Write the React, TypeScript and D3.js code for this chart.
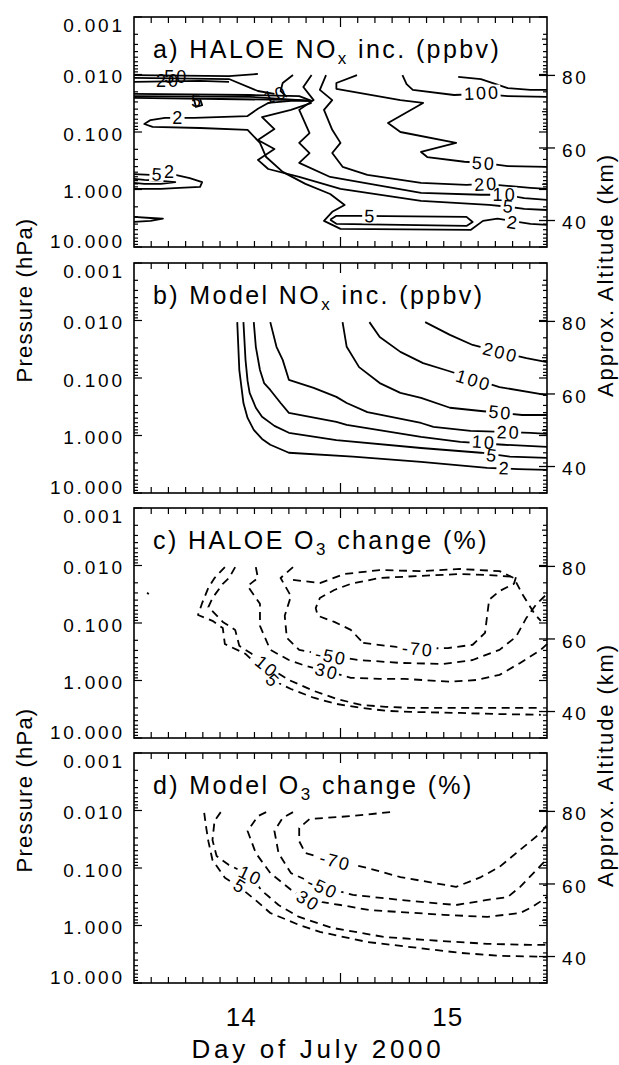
import React from 'react';
import * as d3 from 'd3';

type Pt = [number, number];
interface Contour { pts: Pt[]; label?: string; at?: Pt[]; }
interface Stray { text: string; at: Pt; rot: number; }

// axis values
const pressureTicks = [0.001, 0.01, 0.1, 1, 10];
const pressureTickLabels = ['0.001', '0.010', '0.100', '1.000', '10.000'];
const altTicks = [40, 60, 80];
const altMinorTicks = [50, 70, 90];
const dayLabels = ['14', '15'];
const dayLabelAt = [14.5, 15.5];

const titleHead = ['a) HALOE NO', 'b) Model NO', 'c) HALOE O', 'd) Model O'];
const titleSub = ['x', 'x', '3', '3'];
const titleTail = [' inc. (ppbv)', ' inc. (ppbv)', ' change (%)', ' change (%)'];

// contours: [day of July, approx. altitude km]
const haloeNox: Contour[] = [
  { label: '2', at: [[14.21, 68.5], [15.83, 39.6]], pts: [[14.86, 73.0], [14.76, 73.0], [14.65, 72.4], [14.60, 70.8], [14.55, 68.8], [14.29, 68.3], [14.15, 68.3], [14.08, 67.7], [14.05, 66.6], [14.09, 65.8], [14.32, 65.5], [14.55, 65.0], [14.61, 61.4], [14.64, 57.5], [14.72, 53.4], [14.83, 50.1], [14.95, 47.3], [15.02, 44.3], [14.96, 42.4], [14.92, 39.9], [15.00, 37.7], [15.63, 37.4], [15.69, 39.9], [15.76, 40.5], [15.92, 39.1], [16.0, 38.8]] },
  { label: '5', at: [[15.81, 44.0]], pts: [[14.86, 72.4], [14.76, 70.5], [14.62, 68.5], [14.68, 65.2], [14.60, 62.2], [14.68, 59.7], [14.60, 56.7], [14.65, 54.2], [14.80, 52.0], [15.00, 48.7], [15.39, 45.4], [15.72, 44.3], [15.81, 43.8], [15.89, 43.2], [16.0, 42.9]] },
  { label: '10', at: [[15.79, 47.1]], pts: [[14.86, 80.1], [14.82, 76.8], [14.87, 73.2], [14.80, 70.5], [14.85, 64.1], [14.80, 61.4], [14.85, 58.6], [14.80, 55.9], [14.95, 52.0], [15.39, 47.6], [15.68, 47.1], [15.79, 47.1], [15.89, 46.2], [16.0, 45.7]] },
  { label: '20', at: [[15.70, 50.1]], pts: [[14.93, 80.1], [14.90, 76.0], [14.96, 73.2], [14.92, 70.5], [14.96, 65.0], [15.00, 61.4], [14.96, 58.6], [15.01, 54.8], [15.13, 52.6], [15.39, 50.4], [15.61, 49.8], [15.70, 50.1], [15.92, 49.0], [16.0, 48.7]] },
  { label: '50', at: [[15.69, 55.9]], pts: [[15.08, 80.1], [14.98, 77.9], [14.98, 76.3], [15.29, 73.2], [15.40, 72.4], [15.23, 66.9], [15.29, 64.4], [15.56, 61.4], [15.39, 58.9], [15.42, 57.5], [15.60, 56.2], [15.69, 55.9], [15.81, 55.0], [16.0, 54.8]] },
  { label: '100', at: [[15.68, 75.2]], pts: [[15.30, 80.1], [15.32, 77.6], [15.35, 76.0], [15.55, 74.6], [15.68, 74.9], [15.81, 74.3], [16.0, 74.1]] },
  { pts: [[15.57, 79.6], [15.68, 79.0], [15.81, 76.5], [15.92, 76.0], [16.0, 76.0]] },
  { label: '5', at: [[15.14, 41.3]], pts: [[14.95, 40.2], [14.98, 41.3], [15.09, 41.3], [15.61, 41.0], [15.64, 39.6], [15.61, 38.5], [14.98, 39.1], [14.95, 40.2]] },
  { label: '2', at: [[14.17, 53.4]], pts: [[14.00, 52.8], [14.08, 52.6], [14.20, 52.6], [14.27, 51.7], [14.33, 50.6], [14.32, 49.3], [14.22, 49.0], [14.13, 48.7], [14.00, 48.7]] },
  { label: '5', at: [[14.11, 52.8]], pts: [[14.00, 51.5], [14.05, 51.2], [14.13, 50.9], [14.20, 50.6], [14.13, 50.1], [14.05, 50.1], [14.00, 50.4]] },
  { pts: [[14.00, 41.0], [14.08, 40.7], [14.14, 40.5], [14.08, 39.9], [14.00, 39.6]] },
  { pts: [[14.00, 80.1], [14.46, 79.8], [14.60, 80.4]] },
  { pts: [[14.00, 79.3], [14.46, 79.0], [14.60, 75.7], [14.68, 74.9]] },
  { pts: [[14.00, 78.2], [14.32, 78.5], [14.46, 78.2]] },
  { pts: [[14.00, 74.9], [14.56, 74.6], [14.80, 74.3], [14.86, 73.0]] },
  { pts: [[14.00, 74.3], [14.56, 74.1], [14.86, 73.0]] },
  { pts: [[14.00, 73.8], [14.42, 73.5], [14.80, 73.2], [14.86, 73.0]] },
  { pts: [[14.77, 80.1], [14.72, 77.9], [14.71, 75.7], [14.74, 74.1]] },
  { pts: [[14.29, 73.5], [14.30, 71.3], [14.33, 71.8], [14.32, 73.5]] },
];
const haloeNoxStray: Stray[] = [
  { text: '20', at: [14.16, 78.7], rot: 0 },
  { text: '50', at: [14.20, 79.8], rot: 0 },
  { text: '5', at: [14.30, 73.2], rot: 0 },
  { text: '10', at: [14.68, 74.6], rot: -20 },
];

const modelNox: Contour[] = [
  { label: '2', at: [[15.79, 39.6]], pts: [[14.50, 79.8], [14.51, 66.6], [14.53, 57.5], [14.55, 53.4], [14.58, 50.1], [14.62, 47.6], [14.66, 46.0], [14.75, 43.8], [15.06, 42.7], [15.39, 41.3], [15.71, 39.6], [15.86, 39.3], [16.0, 39.1]] },
  { label: '5', at: [[15.73, 43.2]], pts: [[14.53, 79.8], [14.54, 69.4], [14.55, 63.6], [14.56, 60.3], [14.59, 56.2], [14.62, 53.7], [14.68, 51.2], [14.75, 49.3], [14.98, 47.3], [15.39, 45.1], [15.68, 43.8], [15.82, 42.7], [16.0, 42.4]] },
  { label: '10', at: [[15.69, 46.8]], pts: [[14.58, 79.8], [14.59, 73.0], [14.61, 66.6], [14.63, 63.0], [14.66, 61.1], [14.71, 57.5], [14.75, 54.8], [14.98, 52.3], [15.03, 51.5], [15.39, 48.2], [15.58, 46.8], [15.79, 46.0], [16.0, 45.4]] },
  { label: '20', at: [[15.81, 49.5]], pts: [[14.66, 79.8], [14.69, 73.0], [14.72, 69.4], [14.75, 63.9], [14.87, 61.7], [14.98, 59.2], [15.03, 57.5], [15.13, 55.0], [15.39, 52.0], [15.45, 50.9], [15.63, 49.8], [15.92, 49.3], [16.0, 49.0]] },
  { label: '50', at: [[15.77, 55.0]], pts: [[15.01, 79.8], [15.03, 73.0], [15.09, 67.4], [15.19, 63.0], [15.29, 60.3], [15.39, 58.9], [15.53, 56.2], [15.68, 55.3], [15.88, 54.2], [16.0, 54.2]] },
  { label: '100', at: [[15.64, 63.9]], pts: [[15.14, 79.8], [15.19, 75.7], [15.29, 71.6], [15.40, 68.5], [15.52, 66.4], [15.77, 61.9], [16.0, 59.7]] },
  { label: '200', at: [[15.77, 71.6]], pts: [[15.41, 79.8], [15.53, 76.3], [15.64, 73.5], [15.77, 71.6], [15.90, 69.9], [16.0, 68.8]] },
];

const haloeO3: Contour[] = [
  { label: '5', at: [[14.67, 48.7]], pts: [[14.44, 79.8], [14.39, 76.8], [14.36, 74.1], [14.33, 69.9], [14.31, 66.6], [14.38, 65.0], [14.43, 63.0], [14.44, 58.6], [14.54, 55.9], [14.62, 51.5], [14.67, 48.7], [14.76, 46.2], [14.87, 43.8], [14.98, 42.1], [15.10, 41.0], [15.22, 40.2], [15.34, 39.9], [15.58, 39.6], [15.77, 39.3], [15.97, 39.1]] },
  { label: '10', at: [[14.64, 52.6]], pts: [[14.49, 79.8], [14.46, 76.8], [14.43, 75.2], [14.38, 71.3], [14.36, 68.8], [14.43, 64.7], [14.49, 62.5], [14.51, 58.1], [14.57, 55.9], [14.64, 52.6], [14.75, 48.7], [14.87, 45.7], [14.98, 43.5], [15.10, 41.8], [15.22, 41.3], [15.34, 41.0], [15.58, 41.0], [15.77, 41.0], [15.97, 41.0]] },
  { label: '30', at: [[14.93, 51.2]], pts: [[14.59, 79.8], [14.60, 76.8], [14.55, 74.6], [14.61, 69.7], [14.61, 63.6], [14.66, 57.0], [14.75, 54.2], [14.83, 52.6], [14.93, 51.2], [15.05, 49.3], [15.19, 49.0], [15.31, 49.0], [15.53, 48.2], [15.66, 48.7], [15.77, 50.1], [15.87, 53.4], [15.97, 57.0], [16.0, 58.6]] },
  { label: '-50', at: [[14.95, 55.3]], pts: [[14.77, 79.8], [14.71, 76.8], [14.76, 71.8], [14.73, 66.4], [14.74, 60.3], [14.80, 57.0], [14.95, 55.3], [15.09, 54.2], [15.29, 53.4], [15.50, 53.1], [15.64, 54.2], [15.77, 57.0], [15.85, 60.6], [15.90, 65.8], [15.95, 69.7], [16.0, 72.4]] },
  { label: '-70', at: [[15.37, 57.3]], pts: [[15.11, 58.9], [15.27, 57.8], [15.37, 57.3], [15.52, 57.5], [15.64, 58.4], [15.70, 61.7], [15.71, 66.4], [15.72, 70.8], [15.77, 73.2], [15.84, 75.2], [15.85, 77.1], [15.72, 77.6], [15.58, 77.9], [15.39, 77.4], [15.19, 76.8], [15.05, 75.2], [14.97, 73.5], [14.90, 71.3], [14.88, 68.5], [14.89, 66.4], [14.97, 64.7], [15.05, 62.5], [15.11, 58.9]] },
  { pts: [[14.77, 76.3], [14.90, 75.4], [15.02, 77.9], [15.19, 79.0], [15.39, 78.7], [15.58, 79.3], [15.77, 78.7], [15.84, 76.8], [15.88, 72.4], [15.94, 66.9], [15.97, 65.0]] },
  { pts: [[14.063, 72.7], [14.072, 72.4]] },
];

const modelO3: Contour[] = [
  { label: '5', at: [[14.51, 59.5]], pts: [[14.34, 79.6], [14.35, 75.4], [14.36, 71.8], [14.38, 66.6], [14.44, 61.7], [14.51, 59.2], [14.60, 55.0], [14.66, 52.0], [14.80, 48.7], [14.90, 46.8], [15.13, 44.0], [15.37, 42.4], [15.58, 41.0], [15.77, 40.2], [16.0, 39.9]] },
  { label: '10', at: [[14.56, 62.5]], pts: [[14.42, 79.8], [14.39, 77.4], [14.38, 72.1], [14.40, 67.7], [14.46, 65.2], [14.56, 62.5], [14.62, 58.1], [14.70, 54.2], [14.80, 50.9], [14.96, 47.9], [15.21, 45.4], [15.48, 44.3], [15.71, 43.5], [15.92, 43.2], [16.0, 43.2]] },
  { label: '30', at: [[14.84, 55.6]], pts: [[14.64, 79.8], [14.60, 78.7], [14.55, 74.6], [14.59, 68.5], [14.66, 63.0], [14.76, 58.4], [14.84, 55.6], [15.00, 54.2], [15.14, 52.8], [15.50, 51.5], [15.71, 50.9], [15.87, 52.0], [15.93, 53.7], [16.0, 56.4]] },
  { label: '-50', at: [[14.91, 59.2]], pts: [[14.77, 79.8], [14.72, 78.2], [14.68, 74.6], [14.70, 68.5], [14.76, 63.0], [14.91, 59.2], [15.06, 57.0], [15.29, 55.6], [15.56, 54.2], [15.71, 55.6], [15.81, 56.4], [15.87, 59.2], [15.95, 63.9], [16.0, 66.9]] },
  { label: '-70', at: [[14.97, 66.4]], pts: [[15.24, 79.8], [15.05, 78.7], [14.85, 77.9], [14.80, 75.4], [14.80, 71.8], [14.83, 68.5], [14.97, 66.4], [15.13, 64.4], [15.29, 61.9], [15.45, 60.3], [15.56, 59.2], [15.68, 61.9], [15.77, 64.7], [15.87, 69.4], [15.97, 74.1], [16.0, 76.3]] },
];

const panelContours = [haloeNox, modelNox, haloeO3, modelO3];
const panelStrays: Stray[][] = [haloeNoxStray, [], [], []];
const panelDashed = [false, false, true, true];

const W = 619;
const H = 1065;
const X0 = 134;
const X1 = 547;
const PH = 230;
const panelTops = [17, 263, 508, 753];
const kmDomain: [number, number] = [32.7, 96.1];
const FONT = '"Liberation Sans", Arial, sans-serif';

function angleAt(pts: Pt[], at: Pt, x: (v: number) => number, y: (v: number) => number) {
  const px = x(at[0]);
  const py = y(at[1]);
  let best = Infinity;
  let ang = 0;
  for (let i = 0; i < pts.length - 1; i++) {
    const ax = x(pts[i][0]), ay = y(pts[i][1]);
    const bx = x(pts[i + 1][0]), by = y(pts[i + 1][1]);
    const dx = bx - ax, dy = by - ay;
    const l2 = dx * dx + dy * dy || 1;
    const t = Math.max(0, Math.min(1, ((px - ax) * dx + (py - ay) * dy) / l2));
    const d = Math.hypot(ax + t * dx - px, ay + t * dy - py);
    if (d < best) {
      best = d;
      ang = (Math.atan2(dy, dx) * 180) / Math.PI;
    }
  }
  if (ang > 90) ang -= 180;
  if (ang < -90) ang += 180;
  return ang;
}

const Panel: React.FC<{ idx: number }> = ({ idx }) => {
  const top = panelTops[idx];
  const x = d3.scaleLinear().domain([14, 16]).range([X0, X1]);
  const y = d3.scaleLinear().domain(kmDomain).range([top + PH, top]);
  const p = d3.scaleLog().domain([0.001, 10]).range([top, top + PH]);
  const line = d3.line<Pt>().x(d => x(d[0])).y(d => y(d[1]));
  const contours = panelContours[idx];
  const dashed = panelDashed[idx];

  const labels: { text: string; cx: number; cy: number; rot: number }[] = [];
  contours.forEach(c => {
    (c.at || []).forEach(a => {
      labels.push({ text: c.label || '', cx: x(a[0]), cy: y(a[1]), rot: angleAt(c.pts, a, x, y) });
    });
  });

  const hourTicks = d3.range(1, 24).map(i => 14 + i / 12);
  const pTicks = p.ticks();

  return (
    <g>
      {contours.map((c, i) => (
        <path key={i} d={line(c.pts) || ''} fill="none" stroke="#000" strokeWidth={1.8}
          strokeLinejoin="round" strokeDasharray={dashed ? '8 5.5' : undefined} />
      ))}
      {labels.map((l, i) => (
        <rect key={'r' + i} transform={`translate(${l.cx},${l.cy}) rotate(${l.rot})`}
          x={-l.text.length * 6.2 - 1} y={-7.5} width={l.text.length * 12.4 + 2} height={15} fill="#fff" />
      ))}
      {labels.map((l, i) => (
        <text key={'t' + i} transform={`translate(${l.cx},${l.cy}) rotate(${l.rot})`}
          textAnchor="middle" dx={1} dy={6.5} fontSize={18} letterSpacing={2} fontFamily={FONT}>{l.text}</text>
      ))}
      {panelStrays[idx].map((s, i) => (
        <text key={'s' + i} transform={`translate(${x(s.at[0])},${y(s.at[1])}) rotate(${s.rot})`}
          textAnchor="middle" dx={1} dy={6.5} fontSize={18} letterSpacing={2} fontFamily={FONT}>{s.text}</text>
      ))}

      {/* frame */}
      <rect x={X0} y={top} width={X1 - X0} height={PH} fill="none" stroke="#000" strokeWidth={1.6} />

      {/* pressure ticks, left and right */}
      {pTicks.map((t, i) => {
        const major = Math.abs(Math.log10(t) - Math.round(Math.log10(t))) < 1e-6;
        const len = major ? 8 : 4;
        const yy = p(t);
        return (
          <g key={'p' + i}>
            <line x1={X0} x2={X0 + len} y1={yy} y2={yy} stroke="#000" strokeWidth={1.2} />
            <line x1={X1} x2={X1 - len} y1={yy} y2={yy} stroke="#000" strokeWidth={1.2} />
          </g>
        );
      })}
      {pressureTicks.map((t, i) => {
        let yy = p(t) + 2;
        if (i === 0) yy = top + 8;
        if (i === pressureTicks.length - 1) yy = top + PH - 6;
        return (
          <text key={'pl' + i} x={122 + 2.8} y={yy} dy="0.36em" textAnchor="end" fontSize={19}
            letterSpacing={2.8} fontFamily={FONT}>{pressureTickLabels[i]}</text>
        );
      })}

      {/* altitude axis */}
      {altTicks.map(a => (
        <g key={'a' + a}>
          <line x1={X1 - 8} x2={X1 + 8} y1={y(a)} y2={y(a)} stroke="#000" strokeWidth={1.3} />
          <text x={562} y={y(a) + 2} dy="0.36em" fontSize={19} letterSpacing={2.8} fontFamily={FONT}>{a}</text>
        </g>
      ))}
      {altMinorTicks.map(a => (
        <line key={'am' + a} x1={X1 - 5} x2={X1} y1={y(a)} y2={y(a)} stroke="#000" strokeWidth={1.2} />
      ))}

      {/* time ticks */}
      {hourTicks.map((d, i) => {
        const len = Math.abs(d - 15) < 1e-6 ? 10 : 6;
        return (
          <g key={'h' + i}>
            <line x1={x(d)} x2={x(d)} y1={top} y2={top + len} stroke="#000" strokeWidth={1.2} />
            <line x1={x(d)} x2={x(d)} y1={top + PH} y2={top + PH - len} stroke="#000" strokeWidth={1.2} />
          </g>
        );
      })}

      <text x={153} y={top + 41} fontSize={25} letterSpacing={2.4} fontFamily={FONT} style={{ whiteSpace: 'pre' }}>
        <tspan>{titleHead[idx]}</tspan>
        <tspan fontSize={17} dy={6}>{titleSub[idx]}</tspan>
        <tspan dy={-6}>{titleTail[idx]}</tspan>
      </text>
    </g>
  );
};

const App: React.FC = () => {
  const x = d3.scaleLinear().domain([14, 16]).range([X0, X1]);
  return (
    <svg width={W} height={H} viewBox={`0 0 ${W} ${H}`}
      style={{ position: 'absolute', left: 0, top: 0, background: '#fff' }}>
      <rect x={0} y={0} width={W} height={H} fill="#fff" />
      {panelTops.map((_, i) => <Panel key={i} idx={i} />)}

      {[300, 790].map(cy => (
        <text key={'pl' + cy} transform={`translate(24,${cy}) rotate(-90)`} textAnchor="middle" dy="0.36em"
          fontSize={22} letterSpacing={1.2} fontFamily={FONT}>Pressure (hPa)</text>
      ))}
      {[275, 765].map(cy => (
        <text key={'al' + cy} transform={`translate(605,${cy}) rotate(-90)`} textAnchor="middle" dy="0.36em"
          fontSize={22} letterSpacing={1.9} fontFamily={FONT}>Approx. Altitude (km)</text>
      ))}

      {dayLabels.map((d, i) => (
        <text key={d} x={x(dayLabelAt[i]) + 4} y={1026} textAnchor="middle" fontSize={26}
          letterSpacing={1} fontFamily={FONT}>{d}</text>
      ))}
      <text x={318} y={1058} textAnchor="middle" fontSize={26} letterSpacing={3.7} fontFamily={FONT}>Day of July 2000</text>
    </svg>
  );
};

export default App;
